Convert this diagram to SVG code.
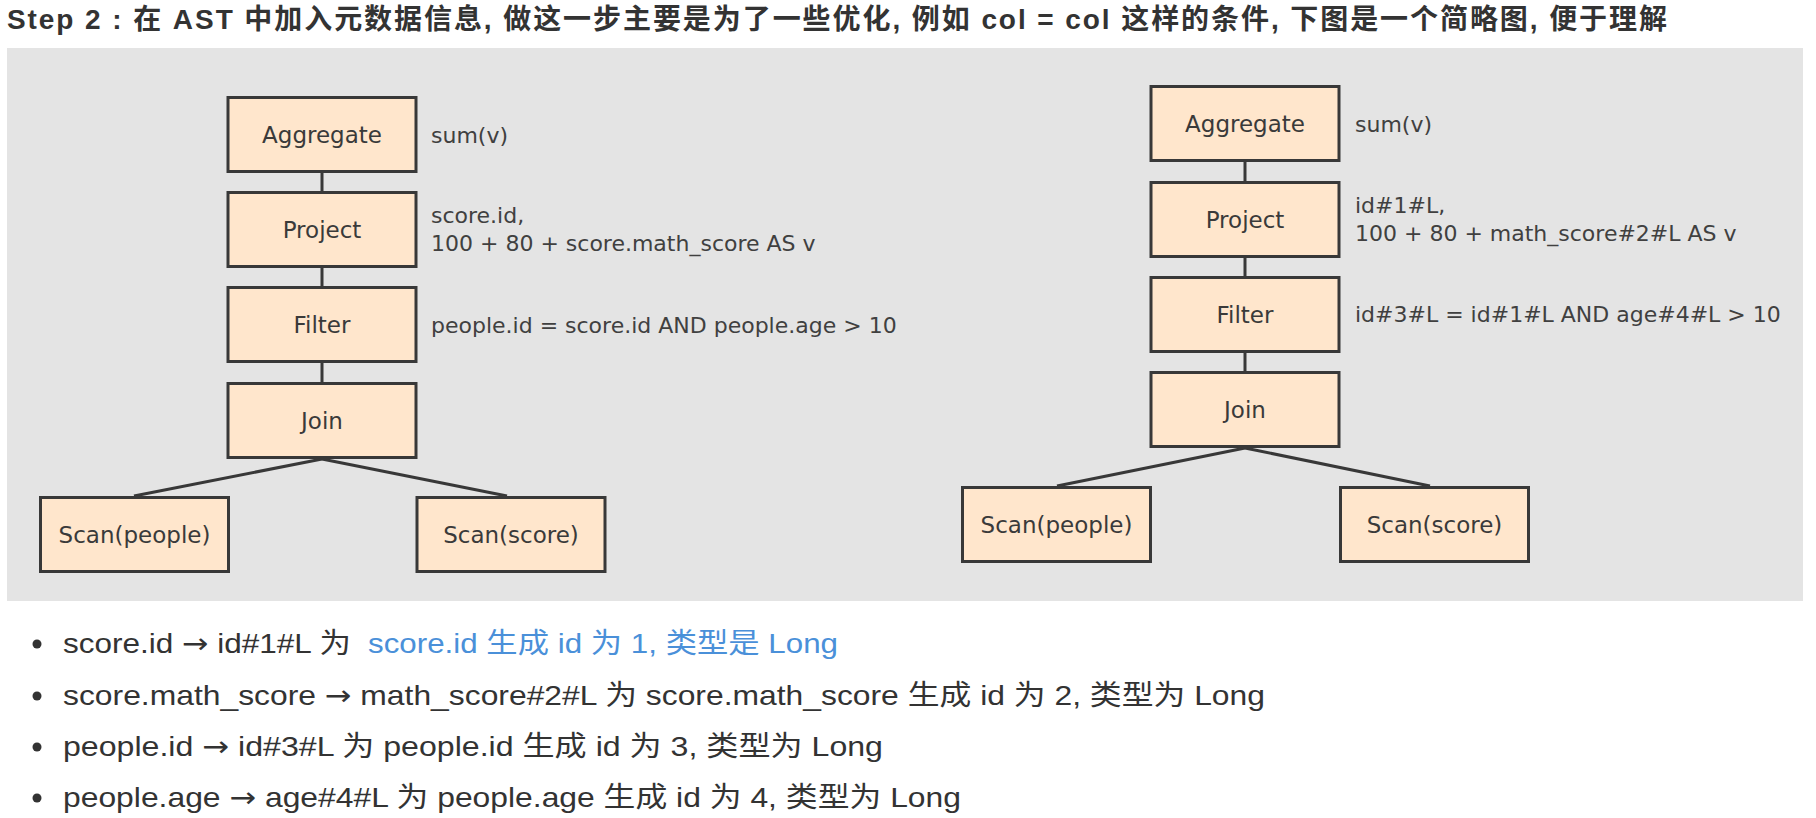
<svg xmlns="http://www.w3.org/2000/svg" width="1816" height="818" viewBox="0 0 1816 818">
<style>
.title{font-family:"Liberation Sans","Noto Sans CJK SC",sans-serif;font-size:28px;font-weight:bold;fill:#333}
.node rect{fill:#ffe6cc;stroke:#383838;stroke-width:3}
.node text{font-family:"DejaVu Sans",sans-serif;font-size:23px;fill:#3a3a3a;text-anchor:middle}
.ann{font-family:"DejaVu Sans",sans-serif;font-size:22px;fill:#404040}
.conn line{stroke:#383838;stroke-width:3}
.li{font-family:"Liberation Sans","Noto Sans CJK SC",sans-serif;font-size:28px;fill:#333}
.arr{font-family:"DejaVu Sans",sans-serif}
.link{fill:#4a90d9}
.dot{fill:#333}
</style>
<rect x="0" y="0" width="1816" height="818" fill="#ffffff"/>
<text class="title" x="7" y="29" textLength="1660" lengthAdjust="spacing">Step 2 : 在 AST 中加入元数据信息, 做这一步主要是为了一些优化, 例如 col = col 这样的条件, 下图是一个简略图, 便于理解</text>
<rect id="panel" x="7" y="48" width="1796" height="553" fill="#e4e4e4"/>

<g id="connectors" class="conn">
<line x1="322" y1="173" x2="322" y2="191"/>
<line x1="322" y1="268" x2="322" y2="286"/>
<line x1="322" y1="363" x2="322" y2="382"/>
<line x1="322" y1="459" x2="134" y2="496"/>
<line x1="322" y1="459" x2="507" y2="496"/>
<line x1="1245" y1="162" x2="1245" y2="181"/>
<line x1="1245" y1="258" x2="1245" y2="276"/>
<line x1="1245" y1="353" x2="1245" y2="371"/>
<line x1="1245" y1="448" x2="1057" y2="486"/>
<line x1="1245" y1="448" x2="1430" y2="486"/>
</g>

<g id="l-aggregate" class="node"><rect x="228" y="97.5" width="188" height="74"/><text x="322" y="143">Aggregate</text></g>
<g id="l-project" class="node"><rect x="228" y="192.5" width="188" height="74"/><text x="322" y="238">Project</text></g>
<g id="l-filter" class="node"><rect x="228" y="287.5" width="188" height="74"/><text x="322" y="333">Filter</text></g>
<g id="l-join" class="node"><rect x="228" y="383.5" width="188" height="74"/><text x="322" y="429">Join</text></g>
<g id="l-scan-people" class="node"><rect x="40.5" y="497.5" width="188" height="74"/><text x="134.5" y="543">Scan(people)</text></g>
<g id="l-scan-score" class="node"><rect x="417" y="497.5" width="188" height="74"/><text x="511" y="543">Scan(score)</text></g>

<g id="r-aggregate" class="node"><rect x="1151" y="86.5" width="188" height="74"/><text x="1245" y="132">Aggregate</text></g>
<g id="r-project" class="node"><rect x="1151" y="182.5" width="188" height="74"/><text x="1245" y="228">Project</text></g>
<g id="r-filter" class="node"><rect x="1151" y="277.5" width="188" height="74"/><text x="1245" y="323">Filter</text></g>
<g id="r-join" class="node"><rect x="1151" y="372.5" width="188" height="74"/><text x="1245" y="418">Join</text></g>
<g id="r-scan-people" class="node"><rect x="962.5" y="487.5" width="188" height="74"/><text x="1056.5" y="533">Scan(people)</text></g>
<g id="r-scan-score" class="node"><rect x="1340.5" y="487.5" width="188" height="74"/><text x="1434.5" y="533">Scan(score)</text></g>

<g id="annotations" class="ann">
<text x="431" y="143">sum(v)</text>
<text x="431" y="223">score.id,</text>
<text x="431" y="251">100 + 80 + score.math_score AS v</text>
<text x="431" y="333">people.id = score.id AND people.age &gt; 10</text>
<text x="1355" y="132">sum(v)</text>
<text x="1355" y="213">id#1#L,</text>
<text x="1355" y="241">100 + 80 + math_score#2#L AS v</text>
<text x="1355" y="322">id#3#L = id#1#L AND age#4#L &gt; 10</text>
</g>

<g id="notes">
<circle class="dot" cx="37" cy="644" r="4.5"/>
<circle class="dot" cx="37" cy="696" r="4.5"/>
<circle class="dot" cx="37" cy="747" r="4.5"/>
<circle class="dot" cx="37" cy="798" r="4.5"/>
<text class="li" x="63" y="653" textLength="288" lengthAdjust="spacingAndGlyphs">score.id <tspan class="arr">→</tspan> id#1#L 为</text>
<text class="li link" x="368" y="653" textLength="470" lengthAdjust="spacingAndGlyphs">score.id 生成 id 为 1, 类型是 Long</text>
<text class="li" x="63" y="705" textLength="1202" lengthAdjust="spacingAndGlyphs">score.math_score <tspan class="arr">→</tspan> math_score#2#L 为 score.math_score 生成 id 为 2, 类型为 Long</text>
<text class="li" x="63" y="756" textLength="820" lengthAdjust="spacingAndGlyphs">people.id <tspan class="arr">→</tspan> id#3#L 为 people.id 生成 id 为 3, 类型为 Long</text>
<text class="li" x="63" y="807" textLength="898" lengthAdjust="spacingAndGlyphs">people.age <tspan class="arr">→</tspan> age#4#L 为 people.age 生成 id 为 4, 类型为 Long</text>
</g>
</svg>
